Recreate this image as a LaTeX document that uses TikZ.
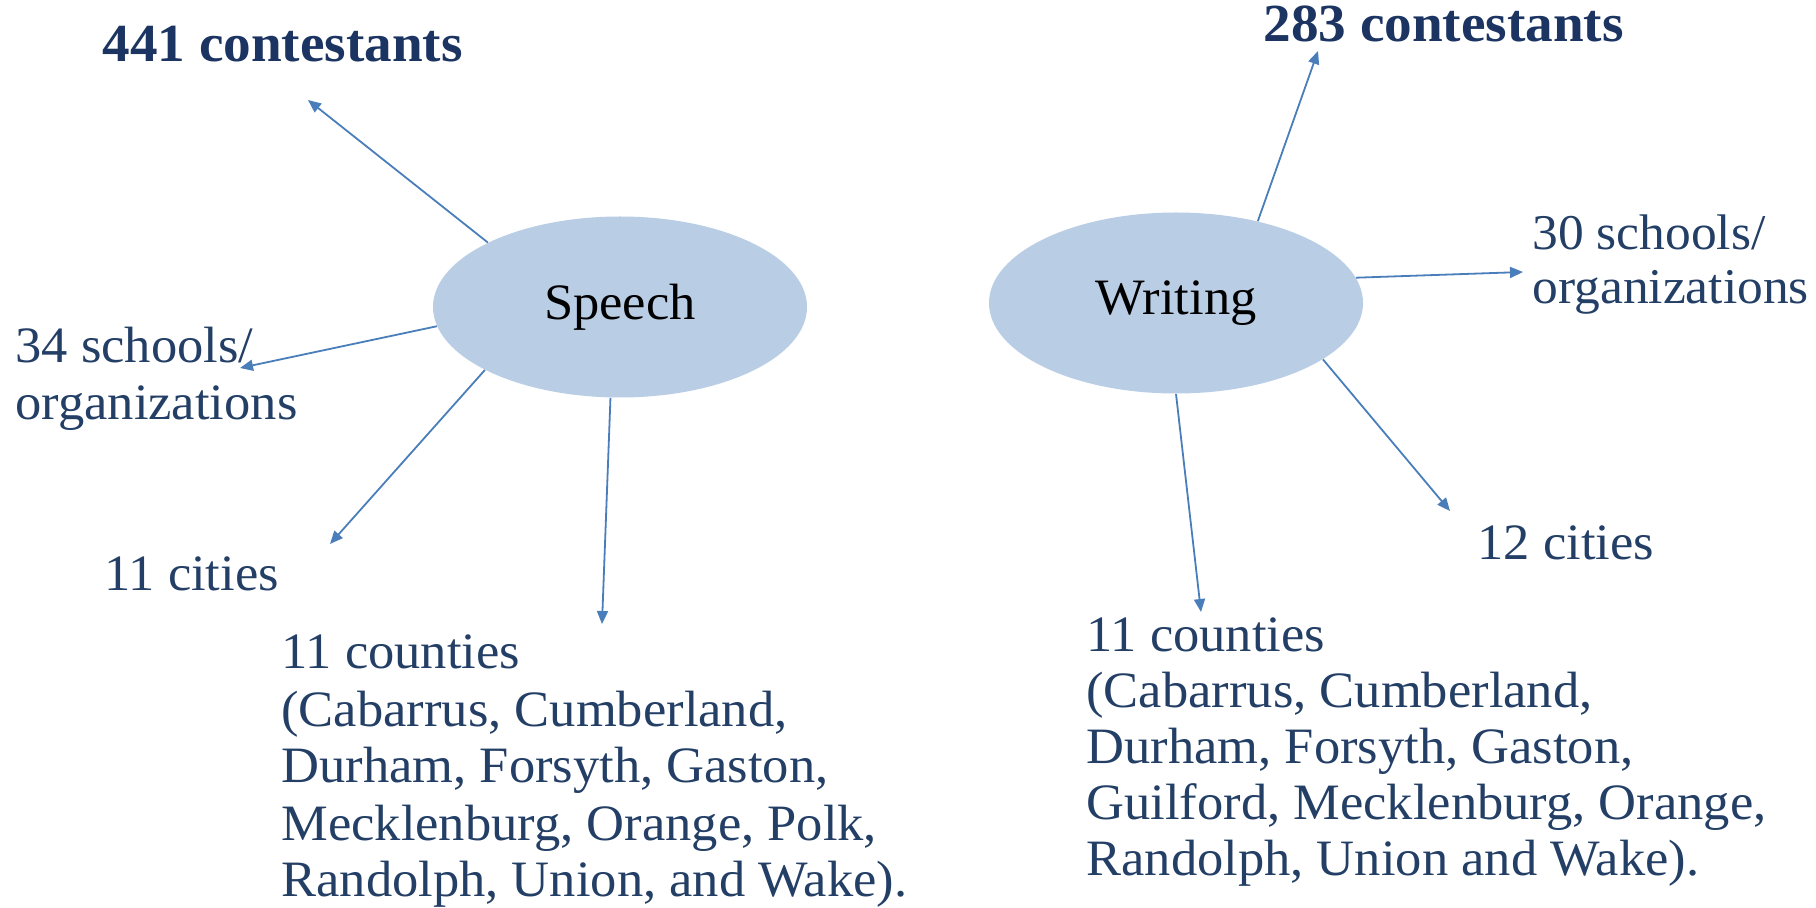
\documentclass[tikz,border=0pt]{standalone}
\usepackage{fontspec}
\setmainfont[FakeStretch=1.03]{Liberation Serif}
\usetikzlibrary{shapes.geometric,arrows.meta}
\definecolor{bubble}{HTML}{B9CDE5}
\definecolor{arrowc}{HTML}{4A7EBB}
\definecolor{labc}{HTML}{243F66}
\definecolor{headc}{HTML}{1B3461}
\newcommand{\stackedlines}[1]{\vtop{\halign{##\hfil\cr#1\crcr}}}
\begin{document}
\begin{tikzpicture}[x=0.5pt,y=-0.5pt,
  hub/.style={ellipse, fill=bubble, draw=none, minimum width=187pt, minimum height=90.5pt, inner sep=0pt, text=black, font=\fontsize{25.5}{28}\selectfont},
  lab/.style={anchor=base west, inner sep=0pt, text=labc, font=\fontsize{25.5}{28.5}\selectfont},
  head/.style={anchor=base west, inner sep=0pt, text=headc, font=\bfseries\fontsize{26.8}{30}\selectfont},
  link/.style={draw=arrowc, line width=0.9pt, -{Triangle[length=6.5pt,width=5.5pt]}}]
\useasboundingbox (0,0) rectangle (1816,908);

% hubs
\node[hub] (sp) at (620,307) {Speech};
\node[hub] (wr) at (1176,303) {Writing};

% speech labels
\node[head] (sc) at (102,62) {441 contestants};
\node[lab] (ss) at (15,363) {\stackedlines{34 schools/\cr organizations}};
\node[lab] (sci) at (104,591) {11 cities};
\node[lab] (sco) at (281,669) {\stackedlines{11 counties\cr (Cabarrus, Cumberland,\cr Durham, Forsyth, Gaston,\cr Mecklenburg, Orange, Polk,\cr Randolph, Union, and Wake).}};

% writing labels
\node[head] (wc) at (1263,42) {283 contestants};
\node[lab, font=\fontsize{25}{27}\selectfont] (ws) at (1532,250) {\stackedlines{30 schools/\cr organizations}};
\node[lab] (wci) at (1477,560) {12 cities};
\node[lab, font=\fontsize{25.5}{28}\selectfont] (wco) at (1086,652) {\stackedlines{11 counties\cr (Cabarrus, Cumberland,\cr Durham, Forsyth, Gaston,\cr Guilford, Mecklenburg, Orange,\cr Randolph, Union and Wake).}};

% arrow ends
\coordinate (s1) at (308,100);
\coordinate (s2) at (240,368);
\coordinate (s3) at (330,544);
\coordinate (s4) at (602,624);
\coordinate (w1) at (1318,51);
\coordinate (w2) at (1523,272);
\coordinate (w3) at (1450,511);
\coordinate (w4) at (1201,612);

% connectors
\draw[link] (sp.154) -- (s1);
\draw[link] (sp.186.2) -- (s2);
\draw[link] (sp.205.7) -- (s3);
\draw[link] (sp.264.3) -- (s4);
\draw[link] (wr.45.3) -- (w1);
\draw[link] (wr.8) -- (w2);
\draw[link] (wr.339.6) -- (w3);
\draw[link] (wr.270) -- (w4);
\end{tikzpicture}
\end{document}
